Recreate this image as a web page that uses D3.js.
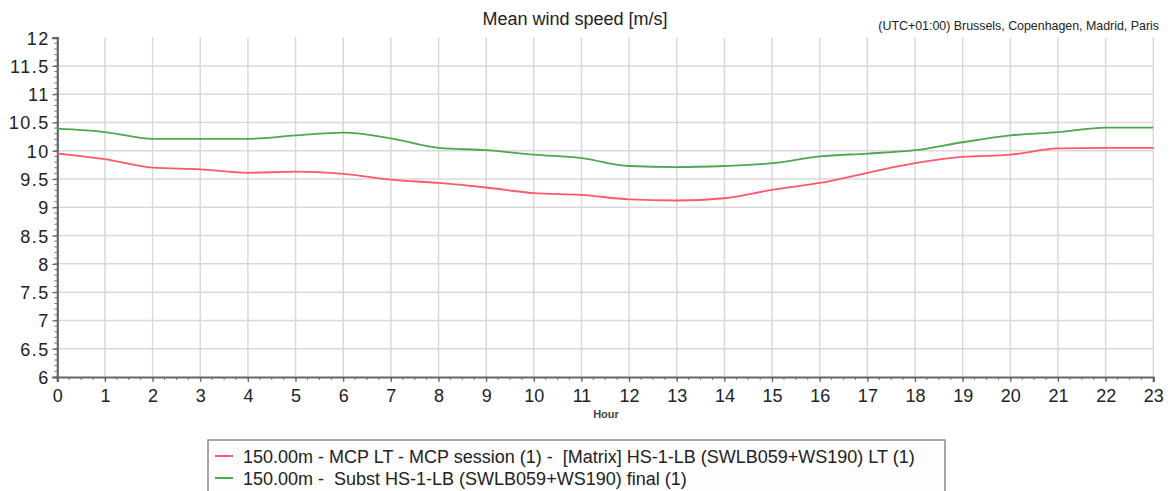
<!DOCTYPE html>
<html>
<head>
<meta charset="utf-8">
<script src="https://cdn.jsdelivr.net/npm/d3@7/dist/d3.min.js"></script>
<style>
  html, body { margin: 0; padding: 0; background: #ffffff; }
  svg { display: block; font-family: "Liberation Sans", Arial, sans-serif; }
</style>
</head>
<body>
<svg id="chart" width="1173" height="491"></svg>
<script>
// Hourly mean wind speed profile (m/s) at 150 m
const hours = d3.range(0, 24);
const mcpLT = [9.95, 9.85, 9.70, 9.67, 9.61, 9.63, 9.59, 9.49, 9.43, 9.35, 9.25, 9.22,
               9.14, 9.12, 9.16, 9.31, 9.43, 9.61, 9.78, 9.89, 9.93, 10.04, 10.05, 10.05];
const substFinal = [10.39, 10.33, 10.21, 10.21, 10.21, 10.27, 10.32, 10.22, 10.05, 10.01, 9.93, 9.87,
                    9.73, 9.71, 9.73, 9.78, 9.90, 9.95, 10.01, 10.15, 10.27, 10.33, 10.41, 10.41];
const yTicks = [6, 6.5, 7, 7.5, 8, 8.5, 9, 9.5, 10, 10.5, 11, 11.5, 12];
const seriesNames = [
  "150.00m - MCP LT - MCP session (1) -  [Matrix] HS-1-LB (SWLB059+WS190) LT (1)",
  "150.00m -  Subst HS-1-LB (SWLB059+WS190) final (1)"
];
const seriesColors = ["#ff5868", "#4fa64f"];

const svg = d3.select("#chart");
const plotLeft = 57.3, plotRight = 1153.3, plotTop = 37.6, plotBottom = 377;

const x = d3.scaleLinear().domain([0, 23]).range([plotLeft, plotRight]);
const y = d3.scaleLinear().domain([6, 12]).range([plotBottom, plotTop]);

// grid
const grid = svg.append("g");
grid.selectAll("line.v").data(hours.filter(h => h > 0)).join("line")
  .attr("x1", d => x(d)).attr("x2", d => x(d))
  .attr("y1", plotTop).attr("y2", plotBottom)
  .attr("stroke", "#d9d9d9").attr("stroke-width", 1.5);
grid.selectAll("line.h").data(yTicks.filter(v => v > 6 && v < 12)).join("line")
  .attr("x1", plotLeft).attr("x2", plotRight)
  .attr("y1", d => y(d)).attr("y2", d => y(d))
  .attr("stroke", "#d9d9d9").attr("stroke-width", 1.5);

// minor ticks
const minorX = d3.range(0, 23.001, 0.25);
svg.append("g").selectAll("line").data(minorX).join("line")
  .attr("x1", d => x(d)).attr("x2", d => x(d))
  .attr("y1", plotBottom).attr("y2", plotBottom + 3)
  .attr("stroke", "#777").attr("stroke-width", 1);
const minorY = d3.range(6, 12.001, 0.1);
svg.append("g").selectAll("line").data(minorY).join("line")
  .attr("x1", plotLeft - 3).attr("x2", plotLeft)
  .attr("y1", d => y(d)).attr("y2", d => y(d))
  .attr("stroke", "#777").attr("stroke-width", 1);

// axes
const xAxis = svg.append("g").attr("transform", `translate(0,${plotBottom})`)
  .call(d3.axisBottom(x).tickValues(hours).tickFormat(d3.format("d")).tickSize(5).tickPadding(7));
const yAxis = svg.append("g").attr("transform", `translate(${plotLeft},0)`)
  .call(d3.axisLeft(y).tickValues(yTicks).tickFormat(d => String(d)).tickSize(5).tickPadding(2.5));
[xAxis, yAxis].forEach(a => {
  a.select(".domain").attr("stroke", "#666").attr("stroke-width", 2.2);
  a.selectAll(".tick line").attr("stroke", "#666").attr("stroke-width", 1.2);
  a.selectAll(".tick text").attr("fill", "#222").style("font-size", "18px")
    .style("font-family", "'Liberation Sans', Arial, sans-serif");
});
yAxis.selectAll(".tick text").attr("dy", "0.36em").style("letter-spacing", "1.5px");

// series lines
const line = d3.line().x((d, i) => x(hours[i])).y(d => y(d)).curve(d3.curveMonotoneX);
[mcpLT, substFinal].forEach((s, i) => {
  svg.append("path").datum(s)
    .attr("fill", "none").attr("stroke", seriesColors[i])
    .attr("stroke-width", 1.8).attr("d", line);
});

// titles
svg.append("text").attr("x", 575).attr("y", 25).attr("text-anchor", "middle")
  .style("font-size", "18px").attr("fill", "#222").text("Mean wind speed [m/s]");
svg.append("text").attr("x", 1159).attr("y", 30).attr("text-anchor", "end")
  .style("font-size", "12.4px").attr("fill", "#222")
  .text("(UTC+01:00) Brussels, Copenhagen, Madrid, Paris");
svg.append("text").attr("x", 606).attr("y", 418).attr("text-anchor", "middle")
  .style("font-size", "11px").style("font-weight", "bold").attr("fill", "#444").text("Hour");

// legend
const lg = svg.append("g");
lg.append("rect").attr("x", 208).attr("y", 440).attr("width", 737).attr("height", 60)
  .attr("fill", "#fdfdfd").attr("stroke", "#8a8a8a").attr("stroke-width", 1.5);
seriesNames.forEach((name, i) => {
  const yy = 456 + i * 22;
  lg.append("line").attr("x1", 215).attr("x2", 233).attr("y1", yy).attr("y2", yy)
    .attr("stroke", seriesColors[i]).attr("stroke-width", 2);
  lg.append("text").attr("x", 243).attr("y", yy + 6.5)
    .style("font-size", "18px").style("white-space", "pre").attr("fill", "#222").text(name);
});
</script>
</body>
</html>
